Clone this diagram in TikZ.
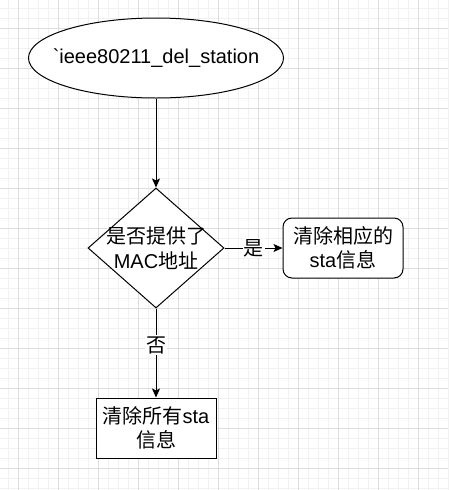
\documentclass[tikz,border=0pt]{standalone}
\usepackage{fontspec}
\setmainfont{Liberation Sans}[Ligatures=TeXOff]
\newfontfamily\cjk{Noto Sans CJK SC}
\usetikzlibrary{shapes.geometric,arrows.meta}
\definecolor{gridmajor}{HTML}{DDDDDD}
\definecolor{gridminor}{HTML}{F1F1F1}
\begin{document}
\begin{tikzpicture}[x=1pt,y=-1pt,
  font=\fontsize{20}{24.5}\selectfont,
  shapebox/.style={draw=black, line width=1pt, fill=white, inner sep=0pt, align=center},
  arr/.style={draw=black, line width=1pt, -{Stealth[length=9pt,width=8pt,inset=2pt]}},
  lbl/.style={fill=white, inner sep=1pt, font=\fontsize{20}{24}\selectfont\cjk}
]
\useasboundingbox (0,0) rectangle (448,490);
\fill[white] (0,0) rectangle (448,490);
% minor grid
\foreach \x in {8,18,...,448} \draw[gridminor, line width=0.8pt] (\x,0) -- (\x,490);
\foreach \y in {8,18,...,490} \draw[gridminor, line width=0.8pt] (0,\y) -- (448,\y);
% major grid
\foreach \x in {18,58,...,448} \draw[gridmajor, line width=0.8pt] (\x,0) -- (\x,490);
\foreach \y in {28,68,...,490} \draw[gridmajor, line width=0.8pt] (0,\y) -- (448,\y);

\node[shapebox, ellipse, minimum width=255pt, minimum height=80pt] (start) at (156,58) {};
\node[inner sep=0pt] (starttext) at (156,58) {\symbol{96}ieee80211\_del\_station};
\node[shapebox, diamond, minimum width=136pt, minimum height=120pt] (dec) at (156,248) {};
\node[align=center, inner sep=0pt] (dectext) at (156,248) {{\cjk 是否提供了}\\MAC{\cjk 地址}};
\node[shapebox, rectangle, rounded corners=9pt, minimum width=120pt, minimum height=60pt] (one) at (343,248) {{\cjk 清除相应的}\\sta{\cjk 信息}};
\node[shapebox, rectangle, minimum width=120pt, minimum height=60pt] (all) at (156,428) {{\cjk 清除所有}sta\\{\cjk 信息}};

\draw[arr] (start.south) -- (dec.north);
\draw[arr] (dec.east) -- node[lbl] {是} (one.west);
\draw[arr] (dec.south) -- node[lbl, pos=0.41] {否} (all.north);
\end{tikzpicture}
\end{document}
